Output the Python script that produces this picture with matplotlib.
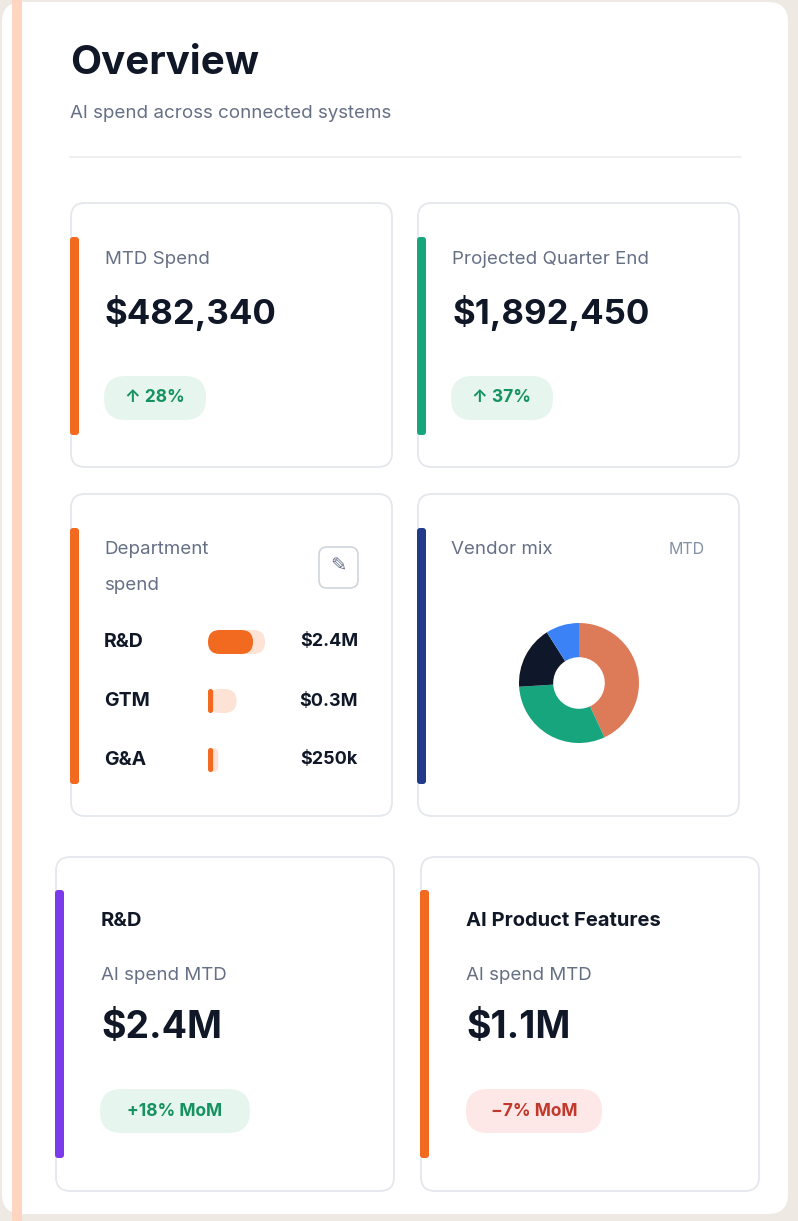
import matplotlib
matplotlib.use("Agg")
import matplotlib.pyplot as plt
from matplotlib.patches import FancyBboxPatch, Rectangle

title = "Overview"
subtitle = "AI spend across connected systems"
kpi_labels = ["MTD Spend", "Projected Quarter End"]
kpi_values = ["$482,340", "$1,892,450"]
kpi_changes = ["↑ 28%", "↑ 37%"]
dept_names = ["R&D", "GTM", "G&A"]
dept_labels = ["$2.4M", "$0.3M", "$250k"]
dept_fill = [0.79, 0.18, 0.5]       # share of each track filled
dept_track = [1.0, 0.5, 0.18]       # track length relative to largest
vendor_share = [43, 31, 17, 9]
vendor_colors = ["#dd7a58", "#16a57c", "#0f172a", "#3b82f6"]
bottom_titles = ["R&D", "AI Product Features"]
bottom_values = ["$2.4M", "$1.1M"]
bottom_changes = ["+18% MoM", "−7% MoM"]

FONT = ["Inter", "DejaVu Sans"]
DARK = "#101828"
GREY = "#667085"

fig = plt.figure(figsize=(7.98, 12.21), dpi=100)
fig.patch.set_facecolor("#efe9e4")
ax = fig.add_axes([0, 0, 1, 1])
ax.set_xlim(0, 798); ax.set_ylim(1221, 0); ax.axis("off")

def rbox(x, y, w, h, r, fc, ec="none", lw=1, z=1):
    ax.add_patch(FancyBboxPatch((x + r, y + r), w - 2 * r, h - 2 * r,
                 boxstyle=f"round,pad={r}", fc=fc, ec=ec, lw=lw, zorder=z))

def txt(x, y, s, size, color=DARK, weight="normal", ha="left", z=5):
    ax.text(x, y, s, fontsize=size, color=color, fontweight=weight, ha=ha,
            va="center", family=FONT, zorder=z)

# page
rbox(2, 2, 786, 1212, 20, "white", z=0)
ax.add_patch(Rectangle((12, 0), 10, 1221, fc="#fdd5c0", zorder=0.5))
txt(70, 64, title, 29, weight="bold")
txt(70, 113, subtitle, 13.5, GREY)
ax.plot([70, 740], [157, 157], color="#eaecf0", lw=1.2)

def card(x, y, w, h, accent, ay0=None, ay1=None):
    rbox(x, y, w, h, 14, "white", "#e4e7ec", 1.3, z=1)
    ay0 = y + 34 if ay0 is None else ay0
    ay1 = y + h - 32 if ay1 is None else ay1
    rbox(x - 1, ay0, 9, ay1 - ay0, 3, accent, z=2)

def pill(x, y, w, h, fc, s, col):
    rbox(x, y, w, h, h / 2 - 0.5, fc, z=3)
    txt(x + w / 2, y + h / 2, s, 12.5, col, "bold", ha="center")

# KPI cards
for i, (x, acc) in enumerate([(71, "#f26a1f"), (418, "#16a57c")]):
    card(x, 203, 321, 264, acc)
    txt(x + 34, 259, kpi_labels[i], 13.5, GREY)
    txt(x + 34, 313, kpi_values[i], 25, weight="bold")
    pill(x + 33, 376, 102, 44, "#e6f6ee", kpi_changes[i], "#15925f")

# Department card
card(71, 494, 321, 322, "#f26a1f")
txt(104, 550, "Department", 13.5, GREY)
txt(104, 586, "spend", 13.5, GREY)
rbox(319, 547, 39, 41, 8, "white", "#d0d5dd", 1.2, z=3)
txt(338.5, 567, "✎", 14, GREY, ha="center")
for i, (n, lab) in enumerate(zip(dept_names, dept_labels)):
    y = 642 + i * 59
    txt(104, y, n, 14, weight="bold")
    txt(358, y, lab, 13, weight="bold", ha="right")
    tl = 57 * dept_track[i]
    rbox(208, y - 12, tl, 24, min(12, tl / 2 - 0.01), "#fde3d6", z=3)
    fl = tl * dept_fill[i]
    rbox(208, y - 12, fl, 24, min(12, fl / 2 - 0.01), "#f26a1f", z=4)

# Vendor mix card
card(418, 494, 321, 322, "#233a8b")
txt(451, 550, "Vendor mix", 13.5, GREY)
txt(705, 549, "MTD", 11.5, "#8391a7", ha="right")
pax = fig.add_axes([519 / 798, 1 - 743 / 1221, 120 / 798, 120 / 1221])
pax.pie(vendor_share, colors=vendor_colors, startangle=90, counterclock=False,
        wedgeprops=dict(width=0.57, linewidth=0))
pax.set_xlim(-1, 1); pax.set_ylim(-1, 1)
pax.set_aspect("equal")

# Bottom cards
for i, (x, acc) in enumerate([(56, "#7c3aed"), (421, "#f26a1f")]):
    card(x, 857, 338, 334, acc, 890, 1158)
    txt(x + 45, 921, bottom_titles[i], 14.5, weight="bold")
    txt(x + 45, 975, "AI spend MTD", 13.5, GREY)
    txt(x + 45, 1028, bottom_values[i], 27, weight="bold")
bpos = [(100, 1089, 150, "#e6f6ee", "#15925f"), (466, 1089, 136, "#fde8e7", "#c0392b")]
for (x, y, w, fc, col), s in zip(bpos, bottom_changes):
    pill(x, y, w, 44, fc, s, col)

fig.savefig("out.png", dpi=100, facecolor=fig.get_facecolor())
